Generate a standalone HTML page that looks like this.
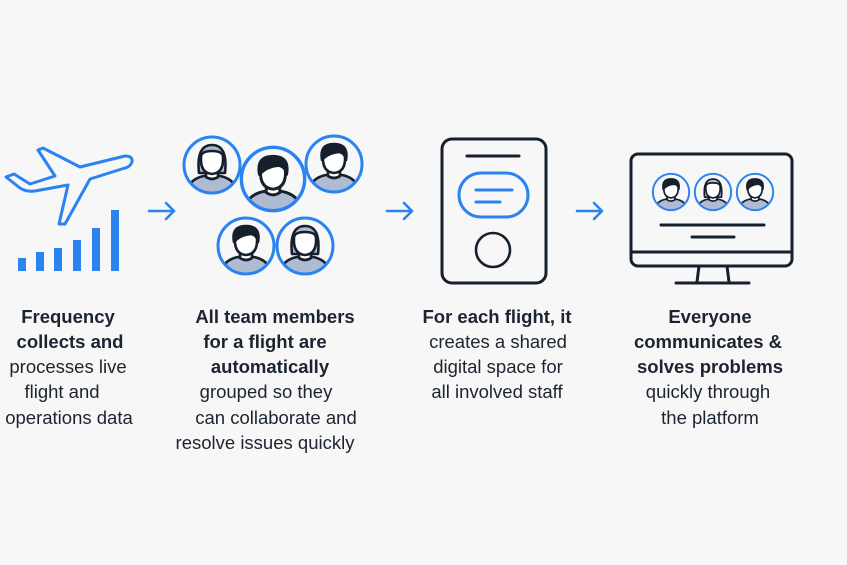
<!DOCTYPE html>
<html><head><meta charset="utf-8"><style>
html,body{margin:0;padding:0;background:#f7f7f7;}
svg{display:block;}
text{font-family:"Liberation Sans",Arial,sans-serif;font-size:18.5px;fill:#1b2430;text-anchor:middle;}
.b{font-weight:bold;}
</style></head><body>
<svg width="847" height="565" viewBox="0 0 847 565" xmlns="http://www.w3.org/2000/svg">
<defs>
<clipPath id="cc"><circle cx="0" cy="0" r="27"/></clipPath>
<g id="av">
 <circle r="28" fill="#f7f7f7"/>
 <g clip-path="url(#cc)" stroke="#16202c" stroke-width="2.6" stroke-linejoin="round">
  <path d="M-26 30 Q-24 14 -8 11 L8 11 Q24 14 26 30 Z" fill="#aebbd2"/>
  <path d="M-6 2 V12 Q0 16 6 12 V2" fill="#fff"/>
  <path d="M-11 -8 Q-12 8 0 9 Q12 8 11 -8 Q11 -14 0 -14 Q-11 -14 -11 -8 Z" fill="#fff"/>
  <path d="M-12 -4 Q-15 -20 0 -20 Q15 -20 12 -4 Q11 -11 5 -12 Q-6 -11 -12 -4 Z" fill="#16202c"/>
 </g>
 <circle r="28" fill="none" stroke="#2b83f0" stroke-width="3"/>
</g>
<g id="av2">
 <circle r="28" fill="#f7f7f7"/>
 <g clip-path="url(#cc)" stroke="#16202c" stroke-width="2.6" stroke-linejoin="round">
  <path d="M-26 30 Q-24 14 -8 11 L8 11 Q24 14 26 30 Z" fill="#aebbd2"/>
  <path d="M-13 8 Q-16 -20 0 -20 Q16 -20 13 8 Z" fill="#aebbd2"/>
  <path d="M-6 2 V12 Q0 16 6 12 V2" fill="#fff"/>
  <path d="M-11 -8 Q-12 8 0 9 Q12 8 11 -8 Q11 -14 0 -14 Q-11 -14 -11 -8 Z" fill="#fff"/>
 </g>
 <circle r="28" fill="none" stroke="#2b83f0" stroke-width="3"/>
</g>
<g id="arr" fill="none" stroke="#2b83f0" stroke-width="2.6" stroke-linecap="round" stroke-linejoin="round">
 <path d="M0 0 H25 M17 -8 L25 0 L17 8"/>
</g>
</defs>

<!-- plane -->
<path d="M6 177 L14 174 L30 184 L55 176 L38 150 L43 148 L80 167 L125 156 Q133 156 132 162 Q130 167 125 168 L90 179 L65 224 L59 224 L68 185 L35 191 Q26 192 20 188 Z" fill="none" stroke="#2b83f0" stroke-width="3" stroke-linejoin="round"/>
<g fill="#2b83f0">
<rect x="18" y="258" width="8" height="13"/>
<rect x="36" y="252" width="8" height="19"/>
<rect x="54" y="248" width="8" height="23"/>
<rect x="73" y="240" width="8" height="31"/>
<rect x="92" y="228" width="8" height="43"/>
<rect x="111" y="210" width="8" height="61"/>
</g>

<use href="#arr" x="149" y="211"/>
<use href="#arr" x="387" y="211"/>
<use href="#arr" x="577" y="211"/>

<!-- team -->
<use href="#av2" transform="translate(212,165)"/>
<use href="#av" transform="translate(334,164)"/>
<use href="#av" transform="translate(273,179) scale(1.13)"/>
<use href="#av" transform="translate(246,246)"/>
<use href="#av2" transform="translate(305,246)"/>

<!-- phone -->
<g fill="none" stroke="#16202c" stroke-width="3" stroke-linecap="round">
<rect x="442" y="139" width="104" height="144" rx="10"/>
<path d="M467 156 H519"/>
<circle cx="493" cy="250" r="17" stroke-width="2.6"/>
</g>
<g fill="none" stroke="#2b83f0" stroke-width="3" stroke-linecap="round">
<rect x="459" y="173" width="69" height="44" rx="22"/>
<path d="M476 190 H512 M476 202 H500"/>
</g>

<!-- monitor -->
<g fill="none" stroke="#16202c" stroke-width="3" stroke-linecap="round" stroke-linejoin="round">
<rect x="631" y="154" width="161" height="112" rx="7"/>
<path d="M631 252 H792"/>
<path d="M699 266 L697 282 M727 266 L729 282 M676 283 H749"/>
<path d="M661 225 H764 M692 237 H734"/>
</g>
<use href="#av" transform="translate(671,192) scale(0.65)"/>
<use href="#av2" transform="translate(713,192) scale(0.65)"/>
<use href="#av" transform="translate(755,192) scale(0.65)"/>

<!-- text -->
<text class="b" x="68" y="323">Frequency</text>
<text class="b" x="70" y="348">collects and</text>
<text x="68" y="373">processes live</text>
<text x="62" y="398">flight and</text>
<text x="69" y="424">operations data</text>

<text class="b" x="275" y="323">All team members</text>
<text class="b" x="265" y="348">for a flight are</text>
<text class="b" x="270" y="373">automatically</text>
<text x="266" y="398">grouped so they</text>
<text x="276" y="424">can collaborate and</text>
<text x="265" y="449">resolve issues quickly</text>

<text class="b" x="497" y="323">For each flight, it</text>
<text x="498" y="348">creates a shared</text>
<text x="498" y="373">digital space for</text>
<text x="497" y="398">all involved staff</text>

<text class="b" x="710" y="323">Everyone</text>
<text class="b" x="708" y="348">communicates &amp;</text>
<text class="b" x="710" y="373">solves problems</text>
<text x="708" y="398">quickly through</text>
<text x="710" y="424">the platform</text>
</svg>
</body></html>
